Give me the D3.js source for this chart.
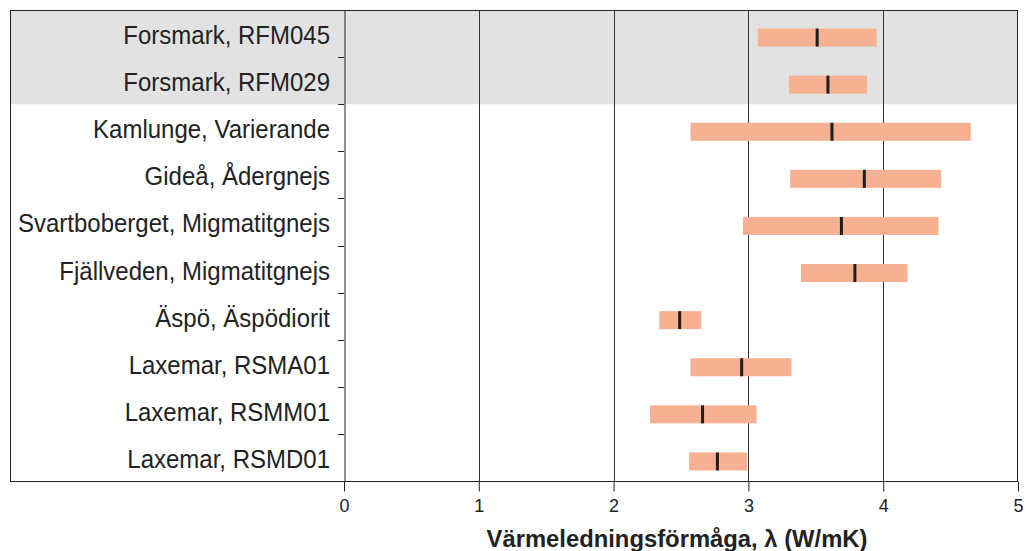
<!DOCTYPE html>
<html><head><meta charset="utf-8">
<script src="https://cdn.jsdelivr.net/npm/d3@7"></script>
<style>body{margin:0;background:#fff}svg{display:block}text{font-family:"Liberation Sans",Arial,Helvetica,sans-serif;fill:#222}</style>
</head><body><svg id="c" width="1025" height="551"></svg>
<script>
const categories = ["Forsmark, RFM045","Forsmark, RFM029","Kamlunge, Varierande","Gideå, Ådergnejs","Svartboberget, Migmatitgnejs","Fjällveden, Migmatitgnejs","Äspö, Äspödiorit","Laxemar, RSMA01","Laxemar, RSMM01","Laxemar, RSMD01"];
const lowValues    = [3.07, 3.30, 2.57, 3.31, 2.96, 3.39, 2.34, 2.57, 2.27, 2.56];
const highValues   = [3.95, 3.88, 4.65, 4.43, 4.41, 4.18, 2.65, 3.32, 3.06, 2.99];
const medianValues = [3.51, 3.59, 3.62, 3.86, 3.69, 3.79, 2.49, 2.95, 2.66, 2.77];
const highlighted  = ["Forsmark, RFM045","Forsmark, RFM029"];
const xTicks = [0,1,2,3,4,5];
const xTitle = "Värmeledningsförmåga, λ (W/mK)";

const svg = d3.select("#c");
const frameL = 10, plotL = 344, plotR = 1018, plotT = 10, plotB = 481;
const x = d3.scaleLinear().domain([0,5]).range([plotL, plotR]);
const y = d3.scaleBand().domain(categories).range([plotT, plotB]).padding(0);
const barH = 18, barOff = 4;

// highlight band
const hi = categories.filter(c => highlighted.includes(c));
svg.append("rect").attr("x", frameL).attr("y", y(hi[0]))
  .attr("width", plotR - frameL).attr("height", y(hi[hi.length-1]) + y.bandwidth() - y(hi[0]))
  .attr("fill", "#e2e2e2");

// vertical gridlines
svg.append("g").selectAll("line").data(xTicks.filter(t => t > 0 && t < 5)).join("line")
  .attr("x1", d => Math.round(x(d)) + 0.5).attr("x2", d => Math.round(x(d)) + 0.5)
  .attr("y1", plotT).attr("y2", plotB).attr("stroke", "#333").attr("stroke-width", 1);

// bars
const rows = categories.map((c,i) => ({c, lo: lowValues[i], hi: highValues[i], med: medianValues[i]}));
svg.append("g").selectAll("rect").data(rows).join("rect")
  .attr("x", d => x(d.lo)).attr("width", d => x(d.hi) - x(d.lo))
  .attr("y", d => y(d.c) + y.bandwidth()/2 + barOff - barH/2).attr("height", barH)
  .attr("fill", "#f6b193");
svg.append("g").selectAll("rect").data(rows).join("rect")
  .attr("x", d => x(d.med) - 1.5).attr("width", 3)
  .attr("y", d => y(d.c) + y.bandwidth()/2 + barOff - barH/2).attr("height", barH)
  .attr("fill", "#1e1e1e");

// frame
svg.append("rect").attr("x", frameL + 0.5).attr("y", plotT + 0.5)
  .attr("width", plotR - frameL - 1).attr("height", plotB - plotT)
  .attr("fill", "none").attr("stroke", "#222").attr("stroke-width", 1);

// y axis at x=0
const yAxis = d3.axisLeft(y).tickSize(0).tickFormat("");
const gy = svg.append("g").attr("transform", `translate(${plotL + 0.5},0)`).call(yAxis);
gy.select(".domain").attr("stroke", "#222");
// separator ticks between rows
svg.append("g").selectAll("line").data(categories.slice(1)).join("line")
  .attr("x1", plotL - 6).attr("x2", plotL)
  .attr("y1", d => Math.round(y(d)) + 0.5).attr("y2", d => Math.round(y(d)) + 0.5)
  .attr("stroke", "#222");
// category labels
svg.append("g").selectAll("text").data(categories).join("text")
  .attr("transform", d => `translate(330,${y(d) + y.bandwidth()/2 + 10.5}) scale(1,1.1)`)
  .attr("text-anchor", "end").attr("font-size", 24).text(d => d);

// x axis
const xAxis = d3.axisBottom(x).tickValues(xTicks).tickSize(10).tickPadding(8).tickFormat(d3.format("d"));
const gx = svg.append("g").attr("transform", `translate(0,${plotB + 0.5})`).call(xAxis);
gx.select(".domain").remove();
gx.selectAll(".tick line").attr("stroke", "#222");
gx.selectAll(".tick text").attr("font-size", 18).attr("fill", "#222")
  .style("font-family", '"Liberation Sans",Arial,sans-serif');

svg.append("text").attr("x", (x(0) + x(5))/2 - 4).attr("y", 547)
  .attr("text-anchor", "middle").attr("font-size", 23.8).attr("font-weight", "bold").text(xTitle);
</script></body></html>
